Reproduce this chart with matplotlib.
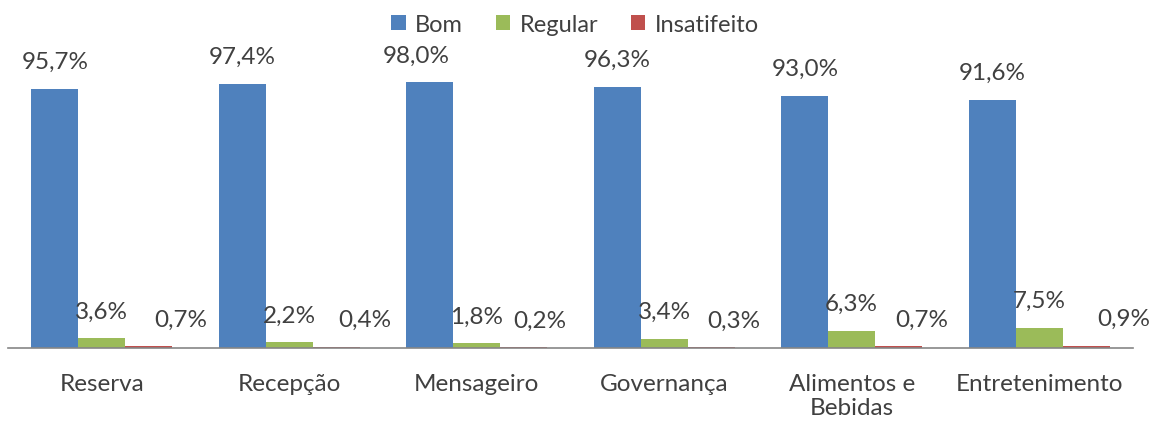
import matplotlib.pyplot as plt
import numpy as np

plt.rcParams['font.family'] = ['Lato', 'DejaVu Sans']

categorias = ["Reserva", "Recepção", "Mensageiro", "Governança", "Alimentos e\nBebidas", "Entretenimento"]
bom = [95.7, 97.4, 98.0, 96.3, 93.0, 91.6]
regular = [3.6, 2.2, 1.8, 3.4, 6.3, 7.5]
insatisfeito = [0.7, 0.4, 0.2, 0.3, 0.7, 0.9]
series = ["Bom", "Regular", "Insatifeito"]

cores = ["#4F81BD", "#9BBB59", "#C0504D"]
# deslocamento horizontal dos rótulos (pontos) para não se sobreporem
dx_rotulos = [
    [0, 0, -10, 0, 0, 0],
    [0, 0, 0, 0, 0, 0],
    [23, 21, 12, 16, 17, 27],
]

fig = plt.figure(figsize=(11.62, 4.31), dpi=100)
ax = fig.add_axes([8 / 1162, 1 - 349 / 431, 1125 / 1162, 328 / 431])

x = np.arange(len(categorias))
largura = 0.25
for i, (vals, nome) in enumerate(zip([bom, regular, insatisfeito], series)):
    pos = x + (i - 1) * largura
    ax.bar(pos, vals, width=largura, color=cores[i], label=nome)
    for j, (p, v) in enumerate(zip(pos, vals)):
        ax.annotate(f"{v:.1f}%".replace(".", ","), (p, v),
                    xytext=(dx_rotulos[i][j], 12), textcoords="offset points",
                    ha="center", va="bottom", fontsize=17.5, color="#404040")

ax.set_xlim(-0.5, len(categorias) - 0.5)
ax.set_ylim(0, 121)
ax.set_yticks([])
ax.set_xticks(x)
ax.set_xticklabels(categorias, fontsize=17.5, color="#404040")
ax.tick_params(axis="x", length=0, pad=18)
for lado in ["top", "right", "left"]:
    ax.spines[lado].set_visible(False)
ax.spines["bottom"].set_color("#868686")
ax.spines["bottom"].set_linewidth(1.2)

fig.legend(loc="upper center", bbox_to_anchor=(0.495, 1.015), ncol=3, frameon=False,
           fontsize=17, handlelength=0.6, handleheight=0.6, handletextpad=0.4,
           columnspacing=1.4, labelcolor="#404040")

fig.savefig("out.png", dpi=100)
